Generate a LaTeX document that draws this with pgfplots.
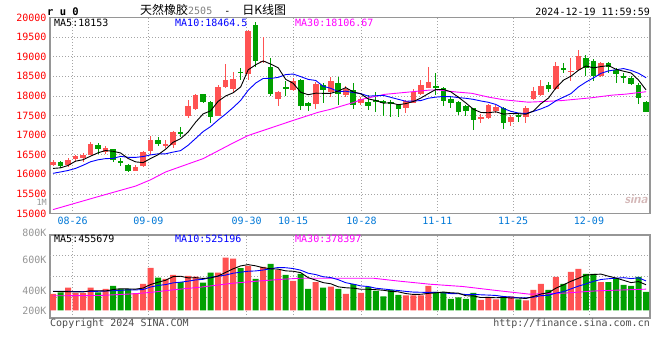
\documentclass[border=0pt]{standalone}
\usepackage{fontspec}
\usepackage{pgfplots}
\pgfplotsset{compat=1.18}
\usepackage{pgfplotstable}
\setmainfont{DejaVu Sans Mono}
\newfontfamily\mono{DejaVu Sans Mono}
\newfontfamily\cjk{Noto Sans CJK SC}
\definecolor{cred}{RGB}{255,82,82}
\definecolor{cgreen}{RGB}{0,160,0}
\definecolor{cblue}{RGB}{0,0,255}
\definecolor{cmag}{RGB}{255,0,255}
\definecolor{xlab}{RGB}{0,120,215}
\definecolor{gridc}{RGB}{165,165,165}
\definecolor{border}{RGB}{150,150,150}
\definecolor{vlab}{RGB}{150,150,150}

\pgfplotstableread{
x o h l c v
0 16230 16360 16200 16320 296
2 16233 16420 16175 16360 407
3 16380 16490 16320 16463 308
4 16420 16550 16310 16505 308
5 16505 16820 16480 16778 407
7 16565 16735 16530 16660 384
11 16097 16225 16080 16190 308
12 16208 16590 16183 16565 473
13 16590 16973 16505 16888 756
15 16735 16888 16659 16778 561
16 16744 17100 16659 17075 632
18 17485 17900 17430 17730 614
19 17660 18060 17640 18030 602
22 17500 18270 17480 18240 673
23 18240 18810 18200 18410 938
24 18180 18620 18110 18440 920
26 18560 19680 18400 19660 791
28 18860 19490 18830 18900 773
30 17920 18120 17730 18110 720
32 18150 18450 18130 18380 526
35 17790 18360 17670 18310 502
37 18110 18490 17960 18380 425
39 18020 18250 17960 18170 296
41 17830 17980 17770 17910 314
47 17700 17900 17560 17880 266
48 17830 18170 17810 18110 266
49 18050 18400 18030 18280 266
50 18210 18740 18190 18360 437
57 17400 17550 17300 17470 189
58 17445 17790 17420 17770 219
59 17615 17770 17570 17725 195
61 17340 17510 17220 17470 248
63 17470 17740 17320 17700 177
64 17920 18240 17890 18130 366
65 18020 18400 18000 18260 473
67 18170 18870 18150 18760 596
69 18620 18960 18390 18635 684
70 18660 19170 18640 19020 738
73 18510 18870 18490 18850 502
}\UP

\pgfplotstableread{
x o h l c v
1 16310 16335 16165 16210 319
6 16735 16800 16530 16633 319
8 16633 16650 16310 16360 437
9 16352 16420 16208 16293 384
10 16250 16268 16064 16080 384
14 16888 16956 16718 16778 584
17 17090 17210 16950 17030 502
20 18050 18060 17810 17840 496
21 17857 17870 17320 17470 673
25 18620 18700 18400 18580 750
27 19820 19880 18750 18880 561
29 18750 18960 17990 18040 827
31 18240 18370 18010 18180 632
33 18400 18420 17630 17750 650
34 17830 17840 17620 17730 384
36 18270 18320 17830 18160 407
38 18320 18470 17770 18040 384
40 18150 18330 17660 17760 467
42 17850 18020 17630 17730 419
43 17900 18100 17580 17850 348
44 17860 17900 17480 17830 248
45 17850 17900 17470 17800 360
46 17760 17790 17460 17660 278
51 18250 18590 18020 18190 331
52 18190 18220 17730 17880 331
53 17920 17960 17700 17810 207
54 17850 17880 17510 17600 230
55 17730 17770 17490 17620 207
56 17680 17700 17130 17390 314
60 17680 17720 17150 17320 248
62 17510 17540 17340 17450 195
66 18290 18360 18110 18180 366
68 18700 18830 18580 18680 473
71 18960 19040 18520 18720 650
72 18900 18930 18390 18520 650
74 18850 18870 18580 18750 502
75 18660 18700 18340 18560 573
76 18510 18580 18320 18470 455
77 18460 18510 18280 18300 437
78 18280 18340 17790 17940 596
79 17850 17870 17590 17600 331
}\DN

\pgfplotsset{
  base/.style={scale only axis, width=600pt, xmin=-0.4, xmax=79.53,
    axis background/.style={fill=white},
    axis line style={draw=border, line width=1.2pt},
    major tick length=0pt, tick style={draw=none},
    scaled y ticks=false, scaled x ticks=false,
    grid style={draw=gridc, line width=0.8pt, dash pattern=on 1pt off 2pt},
    xtick={2.62,12.7,25.8,32.0,41.1,51.2,61.3,71.4},
    xmajorgrids,
  },
  wick/.style={draw=none, mark=none, forget plot,
    error bars/.cd, y dir=both, y explicit, error mark=none,
    error bar style={draw=#1, line width=1pt}},
  body/.style={draw=none, mark=none, forget plot,
    error bars/.cd, y dir=both, y explicit, error mark=none,
    error bar style={draw=#1, line width=5.6pt}},
}

\begin{document}
\begin{tikzpicture}
\fill[white] (0,0) rectangle (660pt,-360pt);

% ---------------- price panel ----------------
\begin{axis}[base, at={(50pt,-213.5pt)}, anchor=south west, height=196pt,
  ymin=15000, ymax=20000,
  ytick={15000,15500,...,20000},
  yticklabels={15000,15500,16000,16500,17000,17500,18000,18500,19000,19500,20000},
  yticklabel style={font=\mono\fontsize{10}{10}\selectfont, text=red},
  ymajorgrids,
  xticklabels={08-26,09-09,09-30,10-15,10-28,11-11,11-25,12-09},
  xticklabel style={font=\mono\fontsize{10}{10}\selectfont, text=xlab},
]
\addplot[wick=cred] table[x=x, y expr={(\thisrow{h}+\thisrow{l})/2}, y error expr={(\thisrow{h}-\thisrow{l})/2}] {\UP};
\addplot[wick=cgreen] table[x=x, y expr={(\thisrow{h}+\thisrow{l})/2}, y error expr={(\thisrow{h}-\thisrow{l})/2}] {\DN};
\addplot[body=cred] table[x=x, y expr={(\thisrow{o}+\thisrow{c})/2}, y error expr={max(abs(\thisrow{c}-\thisrow{o})/2,12)}] {\UP};
\addplot[body=cgreen] table[x=x, y expr={(\thisrow{o}+\thisrow{c})/2}, y error expr={max(abs(\thisrow{c}-\thisrow{o})/2,12)}] {\DN};

% MA30
\addplot[cmag, line width=0.9pt, mark=none] coordinates {
(0,15100)(6,15430)(11,15700)(13,15860)(15,16060)(20,16400)(24,16800)(26,16990)(28.5,17150)(31.6,17350)(35.3,17580)(37,17660)(40,17830)(41.3,17920)(44.2,18040)(47.5,18100)(50.2,18150)(51.4,18150)(53.7,18100)(55.8,18066)(58,17970)(60.1,17900)(63.3,17840)(65.7,17860)(67.7,17880)(71.6,17950)(74.5,18020)(76.3,18045)(79,18107)};
% MA10
\addplot[cblue, line width=0.9pt, mark=none] coordinates {
(0,16025)(1,16060)(2,16097)(3,16150)(4,16230)(5,16320)(6,16370)(7,16400)(8,16405)(9,16458)(10,16434)(11,16432)(12,16453)(13,16495)(14,16523)(15,16523)(16,16567)(17,16604)(18,16741)(19,16914)(20,17090)(21,17218)(22,17386)(23,17538)(24,17704)(25,17885)(26,18143)(27,18328)(28,18445)(29,18446)(30,18473)(31,18544)(32,18558)(33,18492)(34,18421)(35,18394)(36,18244)(37,18194)(38,18108)(39,18121)(40,18086)(41,18059)(42,17994)(43,18004)(44,18014)(45,17963)(46,17913)(47,17863)(48,17870)(49,17881)(50,17941)(51,17969)(52,17984)(53,17980)(54,17957)(55,17939)(56,17912)(57,17871)(58,17837)(59,17782)(60,17678)(61,17606)(62,17563)(63,17552)(64,17605)(65,17669)(66,17748)(67,17877)(68,17968)(69,18059)(70,18229)(71,18354)(72,18461)(73,18576)(74,18638)(75,18668)(76,18697)(77,18651)(78,18577)(79,18464.5)};
% MA5
\addplot[black, line width=0.9pt, mark=none] coordinates {
(0,16150)(1,16165)(2,16225)(3,16335)(4,16372)(5,16463)(6,16548)(7,16608)(8,16587)(9,16545)(10,16405)(11,16317)(12,16298)(13,16403)(14,16500)(15,16640)(16,16817)(17,16910)(18,17078)(19,17329)(20,17541)(21,17620)(22,17862)(23,17998)(24,18080)(25,18228)(26,18666)(27,18794)(28,18892)(29,18812)(30,18718)(31,18422)(32,18322)(33,18092)(34,18030)(35,18070)(36,18066)(37,18066)(38,18124)(39,18212)(40,18102)(41,18052)(42,17922)(43,17884)(44,17816)(45,17824)(46,17774)(47,17804)(48,17856)(49,17946)(50,18058)(51,18164)(52,18164)(53,18104)(54,17968)(55,17820)(56,17660)(57,17578)(58,17570)(59,17595)(60,17535)(61,17551)(62,17547)(63,17533)(64,17614)(65,17802)(66,17944)(67,18206)(68,18402)(69,18503)(70,18655)(71,18763)(72,18715)(73,18749)(74,18772)(75,18680)(76,18630)(77,18586)(78,18404)(79,18153)};
\end{axis}

% ---------------- volume panel ----------------
\begin{axis}[base, at={(50pt,-318pt)}, anchor=south west, height=83pt,
  ymin=-134.5, ymax=1340,
  ytick={0,354,897,1340},
  yticklabels={200K,400K,600K,\raisebox{5pt}{800K}},
  yticklabel style={font=\mono\fontsize{10}{10}\selectfont, text=vlab},
  extra y ticks={237,605,972}, extra y tick labels={},
  extra y tick style={grid=major},
  xticklabels={},
]
\addplot[ybar, bar width=6pt, bar shift=0pt, fill=cred, draw=none, forget plot] table[x=x, y=v] {\UP};
\addplot[ybar, bar width=6pt, bar shift=0pt, fill=cgreen, draw=none, forget plot] table[x=x, y=v] {\DN};
% MA30
\addplot[cmag, line width=0.9pt, mark=none] coordinates {
(0,260)(6.3,266)(10.7,295)(12.9,319)(16,366)(19.6,413)(24,484)(27.6,525)(30.7,555)(32.9,572)(36.9,572)(42.7,572)(45.8,525)(50.2,466)(54.6,425)(59.1,354)(63.5,289)(68,307)(72.4,348)(79,378)};
% MA10
\addplot[cblue, line width=0.9pt, mark=none] coordinates {
(0,340)(1,340)(2,338)(3,336)(4,336)(5,338)(6,340)(7,345)(8,350)(9,357)(10,366)(11,365)(12,371)(13,416)(14,444)(15,459)(16,490)(17,502)(18,520)(19,542)(20,553)(21,589)(22,609)(23,628)(24,661)(25,680)(26,696)(27,702)(28,718)(29,740)(30,763)(31,759)(32,744)(33,715)(34,661)(35,637)(36,598)(37,585)(38,546)(39,493)(40,467)(41,436)(42,425)(43,395)(44,381)(45,367)(46,354)(47,338)(48,326)(49,323)(50,320)(51,322)(52,313)(53,299)(54,297)(55,282)(56,286)(57,278)(58,273)(59,266)(60,247)(61,239)(62,225)(63,222)(64,236)(65,262)(66,268)(67,308)(68,334)(69,383)(70,432)(71,472)(72,517)(73,550)(74,563)(75,573)(76,582)(77,566)(78,579)(79,525)};
% MA5
\addplot[black, line width=0.9pt, mark=none] coordinates {
(0,336)(1,336)(2,333)(3,330)(4,328)(5,350)(6,350)(7,345)(8,371)(9,386)(10,382)(11,379)(12,397)(13,461)(14,501)(15,536)(16,601)(17,607)(18,579)(19,582)(20,569)(21,577)(22,612)(23,676)(24,740)(25,791)(26,814)(27,792)(28,759)(29,740)(30,734)(31,703)(32,696)(33,671)(34,582)(35,539)(36,494)(37,474)(38,420)(39,403)(40,396)(41,377)(42,376)(43,369)(44,359)(45,338)(46,331)(47,300)(48,284)(49,287)(50,303)(51,313)(52,326)(53,314)(54,307)(55,261)(56,258)(57,229)(58,232)(59,225)(60,233)(61,220)(62,221)(63,213)(64,247)(65,292)(66,315)(67,396)(68,455)(69,518)(70,571)(71,628)(72,639)(73,645)(74,608)(75,575)(76,536)(77,494)(78,513)(79,456)};
\end{axis}

% ---------------- texts ----------------
\node[anchor=west, inner sep=0pt, font=\mono\bfseries\fontsize{10.5}{10.5}\selectfont] at (47pt,-12pt) {r u 0};
\node[anchor=west, inner sep=0pt] at (140pt,-10pt) {{\cjk\fontsize{12}{12}\selectfont 天然橡胶}{\mono\fontsize{10}{10}\selectfont\color{gray}2505}{\mono\fontsize{10}{10}\selectfont\ \ -\ \ }{\cjk\fontsize{12}{12}\selectfont 日K线图}};
\node[anchor=east, inner sep=0pt, font=\mono\fontsize{10}{10}\selectfont] at (650pt,-12pt) {2024-12-19 11:59:59};
\node[anchor=west, inner sep=0pt, font=\mono\fontsize{10}{10}\selectfont] at (54pt,-23pt) {MA5:18153};
\node[anchor=west, inner sep=0pt, font=\mono\fontsize{10}{10}\selectfont, text=cblue] at (175pt,-23pt) {MA10:18464.5};
\node[anchor=west, inner sep=0pt, font=\mono\fontsize{10}{10}\selectfont, text=cmag] at (295pt,-23pt) {MA30:18106.67};
\node[anchor=east, inner sep=0pt, font=\mono\fontsize{8.5}{8.5}\selectfont, text=vlab] at (47pt,-202pt) {1M};
\node[anchor=center, inner sep=0pt, font=\sffamily\bfseries\itshape\fontsize{13}{13}\selectfont, text=red!25!gray!45] at (636pt,-199pt) {sina};
\node[anchor=west, inner sep=0pt, font=\mono\fontsize{10}{10}\selectfont] at (54pt,-238.5pt) {MA5:455679};
\node[anchor=west, inner sep=0pt, font=\mono\fontsize{10}{10}\selectfont, text=cblue] at (175pt,-238.5pt) {MA10:525196};
\node[anchor=west, inner sep=0pt, font=\mono\fontsize{10}{10}\selectfont, text=cmag] at (295pt,-238.5pt) {MA30:378397};
\node[anchor=west, inner sep=0pt, font=\mono\fontsize{10}{10}\selectfont, text=black!70] at (50pt,-324pt) {Copyright 2024 SINA.COM};
\node[anchor=east, inner sep=0pt, font=\mono\fontsize{10}{10}\selectfont, text=black!70] at (650pt,-324pt) {http://finance.sina.com.cn};

\pgfresetboundingbox
\path[use as bounding box] (0,0) rectangle (660pt,-360pt);
\end{tikzpicture}
\end{document}
